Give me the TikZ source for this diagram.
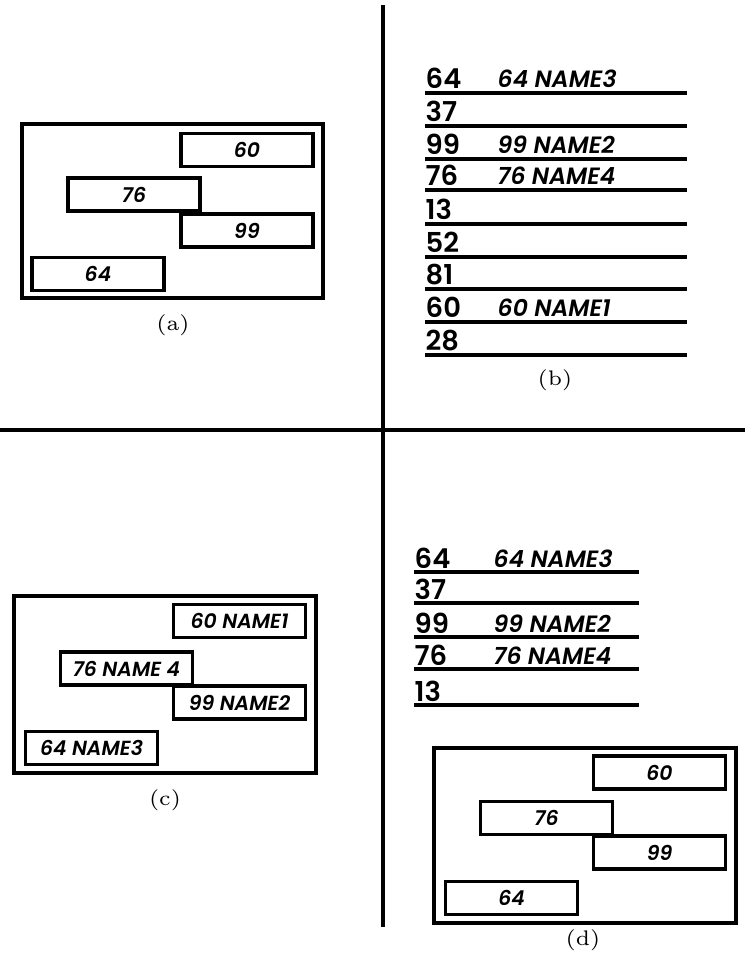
\documentclass[tikz,border=0pt]{standalone}
\usepackage{fontspec}
\newfontfamily\lettering{Poppins SemiBold}[ItalicFont={Poppins SemiBold Italic}]
\usetikzlibrary{positioning}
\tikzset{
  frame/.style={draw,line width=1pt},
  recbox/.style={draw,line width=0.95pt,minimum width=13.2mm,minimum height=3.3mm,inner sep=0pt,font=\lettering\itshape\fontsize{5.8}{6}\selectfont},
  key/.style={anchor=base west,inner sep=0pt,font=\lettering\fontsize{7.8}{9}\selectfont},
  entry/.style={anchor=base west,inner sep=0pt,font=\lettering\itshape\fontsize{6.7}{8}\selectfont},
  rule/.style={line width=0.9pt},
  caption/.style={font=\fontsize{6}{7}\selectfont},
  divider/.style={line width=1.2pt}
}

\begin{document}
\begin{tikzpicture}[x=0.1mm,y=-0.1mm]
  \useasboundingbox (0,0) rectangle (745,958);
  \draw[divider] (383,5) -- (383,927);
  \draw[divider] (0,430) -- (745,430);

  % (a) records in memory
  \draw[frame] (22,124) rectangle (323,298);
  \node[recbox] (a60) at (247,150) {60};
  \node[recbox] (a76) at (134,194.5) {76};
  \node[recbox] (a99) at (247,230.5) {99};
  \node[recbox] (a64) at (98,274) {64};
  \node[caption] (capa) at (173,325) {(a)};

  % (b) full table
  \foreach \k/\y in {64/93,37/126,99/159,76/190,13/224,52/257,81/289,60/322,28/355} {
    \draw[rule] (425,\y) -- (687,\y);
    \node[key] (b\k) at (425,{\y-4}) {\k};
  }
  \foreach \k/\t/\y in {64/64 NAME3/93,99/99 NAME2/159,76/76 NAME4/190,60/60 NAME1/322} {
    \node[entry] (bn\k) at (497,{\y-5}) {\t};
  }
  \node[caption] (capb) at (555,380) {(b)};

  % (c) records with names
  \draw[frame] (14,596) rectangle (316,773);
  \node[recbox] (c60) at (239.5,621) {60 NAME1};
  \node[recbox] (c76) at (126.5,668.5) {76 NAME 4};
  \node[recbox] (c99) at (239.5,702.5) {99 NAME2};
  \node[recbox] (c64) at (91.5,748) {64 NAME3};
  \node[caption] (capc) at (165,800) {(c)};

  % (d) short table and records
  \foreach \k/\y in {64/572,37/603,99/637,76/669,13/705} {
    \draw[rule] (414,\y) -- (639,\y);
    \node[key] (d\k) at (414,{\y-4}) {\k};
  }
  \foreach \k/\t/\y in {64/64 NAME3/572,99/99 NAME2/637,76/76 NAME4/669} {
    \node[entry] (dn\k) at (493,{\y-5}) {\t};
  }
  \draw[frame] (434,748) rectangle (736,923);
  \node[recbox] (d60) at (659.5,772.5) {60};
  \node[recbox] (d76) at (546.5,818) {76};
  \node[recbox] (d99) at (659.5,852.5) {99};
  \node[recbox] (d64) at (511.5,898) {64};
  \node[caption] (capd) at (583,940) {(d)};
\end{tikzpicture}
\end{document}
